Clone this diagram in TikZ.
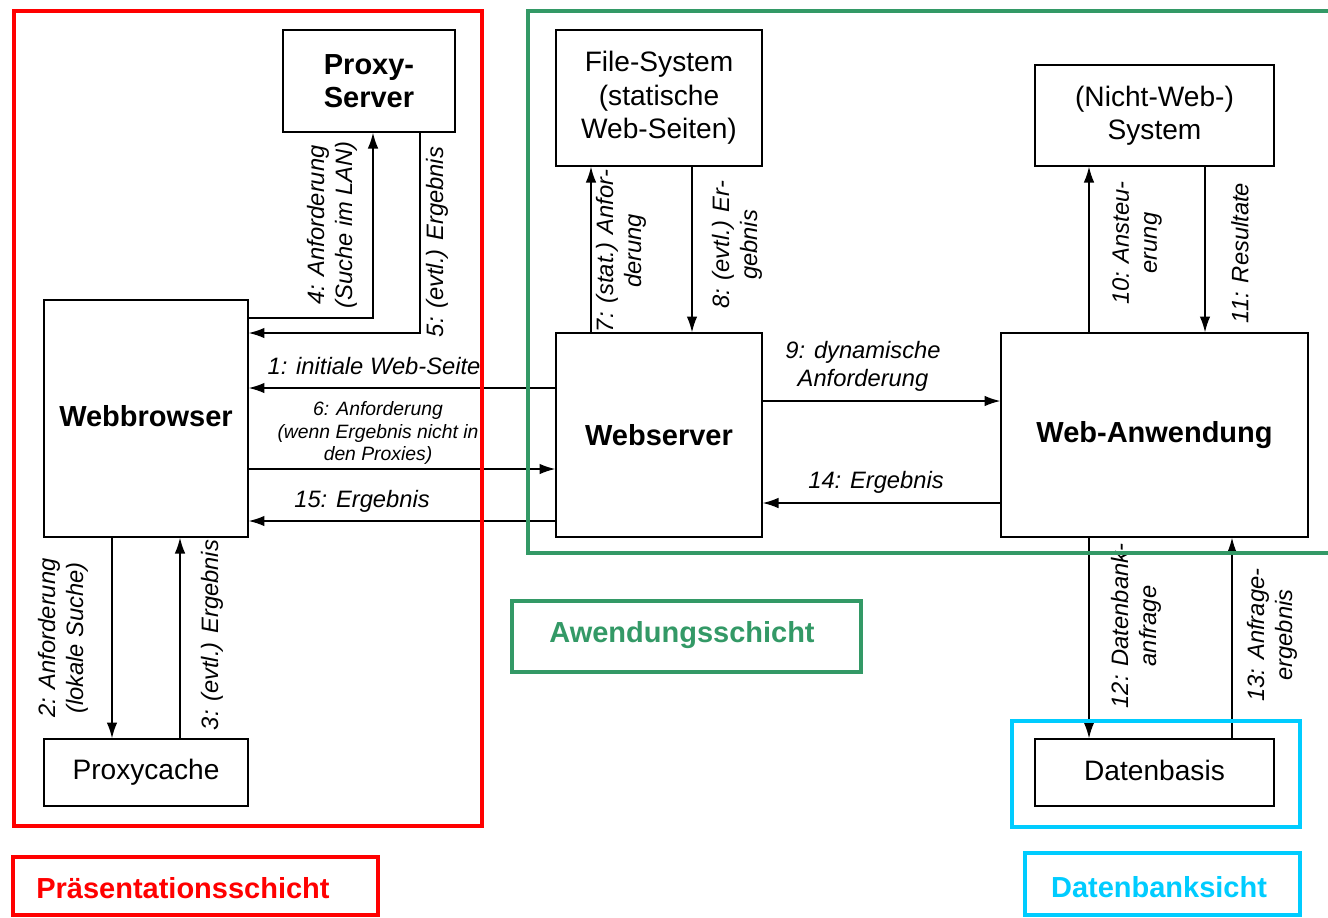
\documentclass[tikz,border=0pt]{standalone}
\usepackage{fontspec}
\setmainfont{Liberation Sans}
\usetikzlibrary{arrows.meta}
\definecolor{pgreen}{RGB}{51,153,102}
\definecolor{pcyan}{RGB}{0,204,255}
\begin{document}
\begin{tikzpicture}[x=0.02cm,y=-0.02cm,
  box/.style={draw, line width=0.8pt, inner sep=0pt, align=center, font=\fontsize{16}{19}\selectfont},
  bbox/.style={box, font=\fontsize{16.5}{19}\selectfont\bfseries},
  arr/.style={-{Latex[length=9pt,width=6pt]}, line width=0.8pt},
  lab/.style={inner sep=0pt, align=center, font=\fontsize{13.5}{16}\selectfont\itshape},
  vlab/.style={lab, rotate=90},
  slab/.style={inner sep=0pt, align=center, font=\fontsize{11}{12.8}\selectfont\itshape},
  frame/.style={line width=2.4pt},
  title/.style={inner sep=0pt, font=\fontsize{16.5}{19}\selectfont\bfseries}
]
\useasboundingbox (0,0) rectangle (1328,917);
\fill[white] (0,0) rectangle (1328,917);

% boxes
\node[bbox, minimum width=3.44cm, minimum height=2.04cm] (ps) at (369,81) {Proxy-\\Server};
\node[box, minimum width=4.12cm, minimum height=2.72cm] (fs) at (659,98) {File-System\\(statische\\Web-Seiten)};
\node[box, minimum width=4.78cm, minimum height=2.02cm] (nw) at (1154.5,115.5) {(Nicht-Web-)\\System};
\node[bbox, minimum width=4.08cm, minimum height=4.74cm] (wb) at (146,418.5) {\raisebox{3pt}{Webbrowser}};
\node[bbox, minimum width=4.12cm, minimum height=4.08cm] (ws) at (659,435) {Webserver};
\node[bbox, minimum width=6.14cm, minimum height=4.08cm] (wa) at (1154.5,435) {Web-Anwendung};
\node[box, minimum width=4.08cm, minimum height=1.34cm] (pc) at (146,772.5) {Proxycache};
\node[box, minimum width=4.78cm, minimum height=1.34cm] (db) at (1154.5,772.5) {\raisebox{2pt}{Datenbasis}};

% connectors
\draw[arr] (wb.east |- 0,318) -- (373,318) -- (ps.south -| 373,0);
\draw[arr] (ps.south -| 420,0) -- (420,333) -- (wb.east |- 0,333);
\draw[arr] (ws.west |- 0,388) -- (wb.east |- 0,388);
\draw[arr] (wb.east |- 0,469) -- (ws.west |- 0,469);
\draw[arr] (ws.west |- 0,521) -- (wb.east |- 0,521);
\draw[arr] (ws.north -| 591,0) -- (fs.south -| 591,0);
\draw[arr] (fs.south -| 692,0) -- (ws.north -| 692,0);
\draw[arr] (ws.east |- 0,401) -- (wa.west |- 0,401);
\draw[arr] (wa.west |- 0,503) -- (ws.east |- 0,503);
\draw[arr] (wa.north -| 1089,0) -- (nw.south -| 1089,0);
\draw[arr] (nw.south -| 1205,0) -- (wa.north -| 1205,0);
\draw[arr] (wb.south -| 112,0) -- (pc.north -| 112,0);
\draw[arr] (pc.north -| 180,0) -- (wb.south -| 180,0);
\draw[arr] (wa.south -| 1089,0) -- (db.north -| 1089,0);
\draw[arr] (db.north -| 1232,0) -- (wa.south -| 1232,0);

% labels
\node[vlab] (l4) at (332,225) {4: Anforderung\\(Suche im LAN)};
\node[vlab] (l5) at (437,242) {5: (evtl.) Ergebnis};
\node[vlab] (l7) at (621,251) {7: (stat.) Anfor-\\derung};
\node[vlab] (l8) at (737,245) {8: (evtl.) Er-\\gebnis};
\node[vlab] (l10) at (1137,243) {10: Ansteu-\\erung};
\node[vlab] (l11) at (1240,253) {11: Resultate};
\node[vlab] (l2) at (63,638) {2: Anforderung\\(lokale Suche)};
\node[vlab] (l3) at (212,635) {3: (evtl.) Ergebnis};
\node[vlab] (l12) at (1136,626) {12: Datenbank-\\anfrage};
\node[vlab] (l13) at (1272,635) {13: Anfrage-\\ergebnis};
\node[lab] (l1) at (374,366) {1: initiale Web-Seite};
\node[slab] (l6) at (378,433) {6: Anforderung\\(wenn Ergebnis nicht in\\den Proxies)};
\node[lab] (l15) at (362,501) {15: Ergebnis};
\node[lab] (l9) at (863,366) {9: dynamische\\Anforderung};
\node[lab] (l14) at (876,482) {14: Ergebnis};

% layer frames
\draw[frame, red] (14,11) rectangle (482,826);
\draw[frame, pgreen] (1328,11) -- (528,11) -- (528,553) -- (1328,553);
\draw[frame, pcyan] (1012,721) rectangle (1300,827);
\draw[frame, red] (13,857) rectangle (378,915);
\draw[frame, pgreen] (512,601) rectangle (861,672);
\draw[frame, pcyan] (1025,853) rectangle (1300,915);
\node[title, red, anchor=west] (t1) at (36,888) {Präsentationsschicht};
\node[title, pgreen] (t2) at (682,635) {Awendungsschicht};
\node[title, pcyan] (t3) at (1159,887) {Datenbanksicht};
\end{tikzpicture}
\end{document}
